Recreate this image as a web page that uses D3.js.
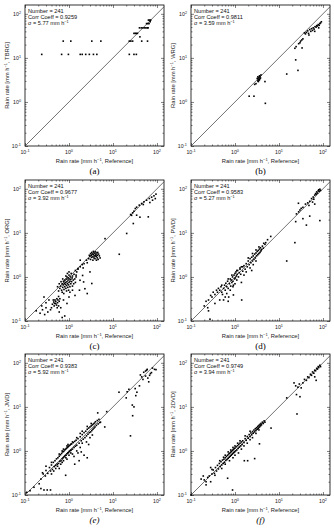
<!DOCTYPE html>
<html>
<head>
<meta charset="utf-8">
<script src="https://cdn.jsdelivr.net/npm/d3@7"></script>
<style>
  body { margin: 0; background: #fff; }
  svg { display: block; font-family: "Liberation Sans", Arial, sans-serif; }
</style>
</head>
<body>
<div id="chart"></div>
<script>
/* Six log-log scatter panels: gauge / disdrometer vs reference rain rate */

const width = 334, height = 528;
const W = 139, H = 141;
const colX = [25, 191], rowY = [5, 180, 354];

// panel info
const instruments = ["TBRG", "WRG", "ORG", "PWD", "JWD", "2DVD"];
const letters = ["(a)", "(b)", "(c)", "(d)", "(e)", "(f)"];
const counts = [241, 241, 241, 241, 241, 241];
const corrs = ["0.9259", "0.9811", "0.9677", "0.9583", "0.9383", "0.9749"];
const sigmas = ["5.77", "3.59", "3.92", "5.27", "5.92", "3.94"];
const majorTicks = [0.1, 1, 10, 100];
const tickExps = ["-1", "0", "1", "2"];

// [reference, instrument] rain rates, mm/h
const tbrgPts = [[0.24,12],[0.68,12],[0.97,12],[1.8,12],[2.0,12],[2.4,12],[2.9,12],[3.6,12],[4.3,12],[23.5,12],[30,12],[34,12],
  [0.74,24],[1.1,24],[3.3,24],[5.3,24],[23.5,24],[25.5,24],[28,24],[45,24],[61,24],
  [30,36],[32,36],[34,36],[36,36],[41,30],
  [40,48],[44,48],[48,48],[52,48],[56,48],[60,48],[63,48],
  [58,60],[62,60],[66,60],[64,72],[68,72],[72,72],[70,66]];

const wrgPts = [[2.1,1.35],[2.7,1.35],[2.8,2.5],[3.0,2.6],[3.2,3.4],[3.3,3.0],[3.4,3.3],[3.5,3.6],[3.6,3.9],[3.8,3.5],[3.5,3.1],
  [3.7,3.8],[3.9,4.1],[3.3,3.7],[3.6,3.2],[3.4,2.9],[3.7,3.4],[4.8,2.9],[4.9,0.93],[15,4.3],[24,9],[27,5.2],[23,16.5],
  [24.5,18],[28,21],[30,22],[31,24],[33,25.5],[33.5,16.8],[35,27],
  [38,37],[40,35],[42,38],[45,41],[47,36],[48,33],[50,44],[53,40],[55,46],[58,42],[60,48],[63,45],[65,40],[66,51],
  [70,50],[72,54],[75,53],[78,57],[80,48],[82,55],[85,60],[88,62],[92,66]];

const orgPts = [[25.2,26.1],[28,28.5],[30,31],[32.2,35.7],[34.5,38.3],[39.6,42.6],[44.8,46.4],[50.7,50.7],[58.2,55.2],
  [67,60.3],[75.7,64.7],[85.5,69.3],[95,75.7],[91.6,60],[79.4,55.2],[69,48.9],[34.5,25.2],[41,22.7],[63.5,23.1],
  [29,16.3],[20.5,9.7],[26.5,25],[48.9,44],[6.6,7.4],[13.9,3.27],
  [2.8,2.6],[3.0,2.9],[3.1,2.5],[3.2,3.1],[3.3,2.8],[3.4,3.3],[3.5,2.9],[3.6,3.2],[3.7,3.5],[3.8,3.0],[3.9,3.4],
  [4.0,3.7],[4.1,3.2],[4.2,2.9],[4.3,3.5],[4.4,3.1],[4.5,3.6],[4.7,3.3],[4.9,3.0],[5.1,2.7],[3.3,3.6],[3.6,3.8],
  [3.9,2.6],[4.2,2.4],[3.5,2.4],[4.6,2.5],[2.9,3.1],[3.1,3.4],[4.0,3.0],[3.7,2.7],[4.4,2.7],[2.5,2.4],[2.6,2.1],[2.2,2.0],
  [1.6,1.5],[1.8,1.7],[2.0,1.9],[2.1,1.6],[1.4,1.4],[1.8,2.4],
  [3.3,0.71],[2.04,1.08],[2.3,0.54],[2.6,0.42],[1.78,0.84],[1.5,1.3],[2.15,0.77],[1.73,0.5],[1.37,0.38],[1.2,0.5],
  [3.0,1.3],[1.6,1.55],[1.45,1.1],
  [0.62,0.55],[0.65,0.62],[0.68,0.5],[0.7,0.7],[0.72,0.58],[0.74,0.66],[0.75,0.8],[0.77,0.52],[0.78,0.72],[0.8,0.6],
  [0.8,0.85],[0.82,0.68],[0.84,0.75],[0.85,0.55],[0.86,0.9],[0.88,0.64],[0.9,0.78],[0.9,1.0],[0.92,0.7],[0.94,0.58],
  [0.95,0.85],[0.96,0.95],[0.98,0.66],[1.0,0.75],[1.0,1.1],[1.02,0.9],[1.05,0.6],[1.05,0.8],[1.08,1.0],[1.1,0.7],
  [1.1,0.88],[1.12,1.2],[1.15,0.78],[1.18,0.95],[1.2,0.62],[1.2,1.05],[1.25,0.85],[1.28,0.7],[1.3,1.15],[1.35,0.9],
  [1.4,0.75],[1.45,1.0],[0.7,0.45],[0.76,0.42],[0.88,0.48],[0.98,0.5],[1.05,0.45],[0.6,0.7],[0.66,0.78],[0.72,0.9],
  [0.85,1.05],[1.0,1.3],[0.92,1.2],[0.55,0.6],[0.58,0.48],
  [0.42,0.24],[0.45,0.27],[0.46,0.22],[0.48,0.3],[0.5,0.25],[0.5,0.28],[0.52,0.23],[0.53,0.32],[0.55,0.26],[0.56,0.3],
  [0.58,0.22],[0.6,0.28],[0.44,0.3],[0.47,0.25],[0.54,0.2],[0.62,0.32],[0.58,0.36],[0.4,0.2],
  [0.18,0.17],[0.22,0.15],[0.25,0.18],[0.28,0.14],[0.3,0.2],[0.33,0.16],[0.27,0.35],[0.35,0.3],[0.38,0.18],
  [0.8,0.13],[0.7,0.12],[0.9,0.25],[0.65,0.2],[0.75,0.3],[1.0,0.35],[0.6,0.16],[0.3,0.26],[0.24,0.22]];

const pwdPts = [[0.2,0.22],[0.22,0.28],[0.25,0.3],[0.28,0.38],[0.3,0.35],[0.32,0.45],[0.35,0.4],[0.38,0.5],[0.27,0.11],
  [0.25,0.17],[0.4,0.45],[0.42,0.55],[0.45,0.5],[0.48,0.6],[0.5,0.45],[0.52,0.4],[0.55,0.55],[0.58,0.65],[0.6,0.5],
  [0.62,0.72],[0.65,0.6],[0.68,0.8],[0.7,0.55],[0.72,0.35],[0.75,0.7],[0.78,0.9],[0.8,0.62],[0.82,0.85],[0.85,0.75],
  [0.88,1.0],[0.9,0.8],[0.92,0.65],[0.95,1.1],[0.98,0.9],[1.0,1.2],[1.02,0.95],[1.05,1.3],[1.08,1.05],[1.1,0.85],
  [1.12,1.15],[1.15,1.4],[1.2,1.0],[1.25,1.25],[1.3,1.5],[1.35,1.15],[1.4,0.75],[1.42,0.3],[1.5,1.35],[0.6,0.35],
  [0.7,0.28],[0.65,0.42],[0.78,0.5],[0.9,0.6],[1.0,0.7],[0.55,0.3],[0.45,0.3],[0.35,0.25],[0.24,0.2],[0.92,0.39],
  [1.6,1.8],[1.7,1.5],[1.8,2.0],[1.9,1.7],[2.0,2.3],[2.1,1.9],[2.2,2.6],[2.3,2.1],[2.4,2.8],[2.5,2.3],[2.6,3.0],
  [2.7,2.5],[2.8,3.3],[2.9,2.7],[3.0,3.5],[3.1,3.0],[3.2,3.8],[3.3,3.2],[3.4,4.0],[3.5,3.4],[3.6,4.3],[3.7,3.6],
  [3.8,4.6],[3.9,3.9],[4.0,4.2],[4.2,5.0],[4.4,4.5],[1.8,1.3],[2.2,1.6],[2.6,1.9],[3.0,2.3],[2.4,1.4],[1.6,1.1],
  [5.0,6.0],[5.5,7.0],[6.5,8.3],[4.8,5.5],[1.5,1.7],[1.3,1.6],[2.0,2.7],[2.5,3.4],[3.0,4.1],[3.5,4.8],[4.5,5.8],
  [0.5,0.65],[0.7,0.9],[0.85,1.1],[1.1,1.4],[1.4,1.7],
  [23,6],[15,2.3],[24,18],[25,27],[28,30],[30,33],[32,36],[35,38],[35,21],[42,15],[40,45],[45,48],[50,52],[50,24],
  [55,60],[60,65],[62,58],[65,72],[68,78],[70,75],[72,85],[75,80],[78,90],[80,95],[82,88],[85,19],[85,98],[88,92],
  [65,45],[58,50],[48,42],[27.7,47]];

const jwdPts = [[0.11,0.115],[0.13,0.125],[0.16,0.15],[0.23,0.14],[0.27,0.13],[0.32,0.13],[0.38,0.13],[0.21,0.18],
  [0.23,0.23],[0.26,0.3],[0.29,0.27],[0.25,0.32],[0.3,0.36],[0.33,0.31],[0.36,0.42],[0.38,0.35],[0.4,0.48],[0.42,0.38],
  [0.44,0.55],[0.46,0.44],[0.48,0.6],[0.5,0.47],[0.52,0.66],[0.54,0.5],[0.56,0.7],[0.58,0.52],[0.6,0.76],[0.62,0.58],
  [0.64,0.82],[0.66,0.6],[0.68,0.88],[0.7,0.66],[0.72,0.95],[0.74,0.7],[0.76,0.98],[0.78,0.74],[0.8,1.05],[0.82,0.78],
  [0.84,1.1],[0.86,0.8],[0.88,1.15],[0.9,0.86],[0.92,1.2],[0.94,0.9],[0.96,1.25],[0.98,0.92],[1.0,1.3],[1.02,0.98],
  [1.05,1.35],[1.08,1.02],[1.1,1.42],[1.12,1.05],[1.15,1.45],[1.2,1.1],[1.25,1.55],[1.3,1.2],[1.35,1.65],[1.4,1.28],
  [1.45,1.75],[1.5,1.35],[1.6,1.9],[1.7,1.5],[1.8,2.1],[1.9,1.7],[2.0,2.35],[2.1,1.85],[2.2,2.6],[2.3,2.0],[2.4,2.8],
  [2.5,2.2],[2.6,3.1],[2.7,2.4],[2.8,3.3],[2.9,2.6],[3.0,3.5],[3.1,2.7],[3.2,3.7],[3.3,2.9],[3.4,3.9],[3.5,3.1],
  [3.6,4.1],[3.7,3.3],[3.8,4.3],[3.9,3.5],[4.0,4.6],[4.2,3.8],[4.4,4.9],[4.6,4.1],[4.8,5.2],[5.0,4.4],[4.5,7.3],[6.5,3.5],
  [0.55,0.45],[0.6,0.4],[0.7,0.55],[0.75,0.6],[0.85,0.7],[0.9,0.65],[0.84,0.28],[1.0,0.8],[1.1,0.9],[1.2,0.85],
  [1.35,0.5],[1.3,0.75],[1.5,1.0],[1.6,0.9],[1.8,1.2],[2.0,1.5],[2.2,0.8],[2.6,0.7],[2.5,1.6],[3.0,2.0],[3.4,2.3],
  [2.8,1.4],[1.7,0.6],[1.9,0.95],[0.65,0.5],[0.5,0.4],[0.45,0.35],[0.4,0.3],
  [0.3,0.45],[0.4,0.55],[0.6,0.85],[0.75,1.1],[0.95,1.4],[1.2,1.6],[0.7,1.0],[1.5,2.0],[2.0,2.8],[2.6,3.6],[3.2,4.2],
  [0.9,1.3],[1.8,2.5],
  [7.2,7.8],[5.2,4.5],[13.7,21.5],[21,22],[23,25],[20,16],[27.5,11],[28,6.3],[25,2.2],[32,26],[35,21.5],[30,10],
  [42,53],[50,61],[55,65],[60,71],[71,57],[79,76],[88,71],[95,70],[65,37],[45,48],[48,42],[55,50],[62,45],[68,52],
  [75,60],[58,68],[40,30],[33,18]];

const dvdPts = [[0.1,0.1],[0.17,0.23],[0.19,0.27],[0.2,0.22],[0.22,0.2],[0.24,0.25],[0.26,0.27],[0.28,0.42],[0.3,0.3],
  [0.32,0.37],[0.34,0.31],[0.36,0.42],[0.38,0.35],[0.4,0.47],[0.42,0.39],[0.44,0.52],[0.46,0.44],[0.48,0.57],[0.5,0.48],
  [0.52,0.62],[0.54,0.52],[0.56,0.65],[0.58,0.55],[0.6,0.7],[0.62,0.61],[0.64,0.75],[0.66,0.64],[0.68,0.8],[0.7,0.68],
  [0.72,0.85],[0.74,0.72],[0.76,0.89],[0.78,0.76],[0.8,0.94],[0.82,0.8],[0.84,0.98],[0.86,0.84],[0.88,1.04],[0.9,0.88],
  [0.92,1.08],[0.94,0.92],[0.96,1.13],[0.98,0.95],[1.0,1.16],[1.03,1.0],[1.06,1.24],[1.1,1.05],[1.14,1.32],[1.18,1.14],
  [1.22,1.4],[1.26,1.22],[1.3,1.5],[1.35,1.3],[1.4,1.6],[1.45,1.4],[1.5,1.7],[1.6,1.55],[1.7,1.9],[1.8,1.74],
  [1.9,2.12],[2.0,1.94],[2.1,2.35],[2.2,2.12],[2.3,2.56],[2.4,2.32],[2.5,2.76],[2.6,2.52],[2.7,2.98],[2.8,2.7],[2.9,3.2],
  [3.0,2.9],[3.1,3.38],[3.2,3.1],[3.3,3.6],[3.4,3.28],[3.5,3.8],[3.6,3.48],[3.7,4.0],[3.8,3.7],[3.9,4.2],[4.0,3.9],
  [4.2,4.5],[4.4,4.2],[4.6,4.8],[4.8,4.5],
  [0.68,0.24],[0.88,0.13],[1.63,0.6],[1.94,0.6],[2.8,0.67],[3.6,1.45],[6.6,3.3],[25.7,6.9],[0.35,0.28],[0.5,0.4],
  [0.6,0.5],[0.75,0.6],[0.9,0.7],[1.0,0.8],[1.2,0.9],[1.4,1.1],[1.6,1.3],[1.9,1.5],[2.2,1.8],[2.5,2.0],[3.0,2.5],
  [3.5,3.0],[0.28,0.2],[0.22,0.17],
  [0.3,0.38],[0.45,0.6],[0.6,0.8],[0.8,1.05],[1.0,1.3],[1.3,1.7],[1.7,2.2],[2.2,2.8],[0.55,0.72],[0.7,0.95],[0.9,1.2],
  [1.15,1.5],
  [15,16],[22,35],[24,30],[27,28],[29,33],[32,27],[30,17],[25,19],[35,35],[38,42],[42,40],[45,48],[48,46],[52,55],
  [55,52],[58,62],[62,58],[65,68],[68,66],[72,75],[75,72],[78,82],[80,78],[85,88],[88,82],[70,40],[65,48]];

const allPts = [tbrgPts, wrgPts, orgPts, pwdPts, jwdPts, dvdPts];

const svg = d3.select("#chart")
  .append("svg")
  .attr("width", width)
  .attr("height", height)
  .attr("viewBox", [0, 0, width, height]);

// log minor ticks 2..9 per decade
const minorTicks = [];
for (let e = -1; e <= 2; e++) {
  for (let m = 2; m <= 9; m++) minorTicks.push(m * Math.pow(10, e));
}

const xMax = Math.pow(10, 2.16), yMax = Math.pow(10, 2.2);

// tick label with superscript exponent
function powLabel(sel, exp) {
  sel.append("tspan").text("10");
  sel.append("tspan").attr("dy", -2.2).attr("font-size", 3.8).text(exp);
}

function drawPanel(i) {
  const col = i % 2, row = Math.floor(i / 2);
  const g = svg.append("g").attr("transform", `translate(${colX[col]},${rowY[row]})`);

  let x = d3.scaleLog().domain([0.1, xMax]).range([0, W]);
  let y = d3.scaleLog().domain([0.1, yMax]).range([H, 0]);

  const minX = minorTicks.filter(v => v < xMax), minY = minorTicks.filter(v => v < yMax);

  // ticks pointing inward on all four sides
  g.append("g").attr("transform", `translate(0,${H})`)
    .call(d3.axisBottom(x).tickValues(minX).tickSize(-1.5).tickFormat(""));
  g.append("g").attr("transform", `translate(0,${H})`)
    .call(d3.axisBottom(x).tickValues(majorTicks).tickSize(-3).tickFormat(""));
  g.append("g")
    .call(d3.axisTop(x).tickValues(minX).tickSize(-1.5).tickFormat(""));
  g.append("g")
    .call(d3.axisTop(x).tickValues(majorTicks).tickSize(-3).tickFormat(""));
  g.append("g")
    .call(d3.axisLeft(y).tickValues(minY).tickSize(-1.5).tickFormat(""));
  g.append("g")
    .call(d3.axisLeft(y).tickValues(majorTicks).tickSize(-3).tickFormat(""));
  g.append("g").attr("transform", `translate(${W},0)`)
    .call(d3.axisRight(y).tickValues(minY).tickSize(-1.5).tickFormat(""));
  g.append("g").attr("transform", `translate(${W},0)`)
    .call(d3.axisRight(y).tickValues(majorTicks).tickSize(-3).tickFormat(""));

  g.selectAll(".domain").remove();
  g.selectAll(".tick line").attr("stroke", "#000").attr("stroke-width", 0.5);

  g.append("rect")
    .attr("width", W).attr("height", H)
    .attr("fill", "none").attr("stroke", "#000").attr("stroke-width", 0.8);

  // 1:1 line
  const lim = Math.min(xMax, yMax);
  g.append("line")
    .attr("x1", x(0.1)).attr("y1", y(0.1))
    .attr("x2", x(lim)).attr("y2", y(lim))
    .attr("stroke", "#333").attr("stroke-width", 0.7);

  // points
  g.append("g").selectAll("rect")
    .data(allPts[i])
    .join("rect")
    .attr("x", d => x(d[0]) - 0.8)
    .attr("y", d => y(d[1]) - 0.8)
    .attr("width", 1.6).attr("height", 1.6)
    .attr("fill", "#000");

  // tick labels
  majorTicks.forEach((v, k) => {
    const tx = g.append("text")
      .attr("x", x(v)).attr("y", H + 8)
      .attr("text-anchor", "middle")
      .attr("font-size", 5.2).attr("fill", "#222");
    powLabel(tx, tickExps[k]);
    const ty = g.append("text")
      .attr("x", -4).attr("y", y(v) + 2)
      .attr("text-anchor", "end")
      .attr("font-size", 5.2).attr("fill", "#222");
    powLabel(ty, tickExps[k]);
  });

  // stats box text
  const info = g.append("text").attr("font-size", 5.6).attr("fill", "#111");
  info.append("tspan").attr("x", 3).attr("y", 8).text("Number = " + counts[i]);
  info.append("tspan").attr("x", 3).attr("y", 14).text("Corr Coeff = " + corrs[i]);
  info.append("tspan").attr("x", 3).attr("y", 20).text("\u03c3 = " + sigmas[i] + " mm h");
  info.append("tspan").attr("dy", -2).attr("font-size", 3.8).text("\u22121");

  // x axis label
  const xl = g.append("text")
    .attr("x", W / 2).attr("y", H + 17)
    .attr("text-anchor", "middle")
    .attr("font-size", 5.8).attr("fill", "#222");
  xl.append("tspan").text("Rain rate [mm h");
  xl.append("tspan").attr("dy", -2).attr("font-size", 4).text("\u22121");
  xl.append("tspan").attr("dy", 2).text(", Reference]");

  // y axis label
  const yl = g.append("text")
    .attr("transform", `translate(-16,${H / 2}) rotate(-90)`)
    .attr("text-anchor", "middle")
    .attr("font-size", 5.8).attr("fill", "#222");
  yl.append("tspan").text("Rain rate [mm h");
  yl.append("tspan").attr("dy", -2).attr("font-size", 4).text("\u22121");
  yl.append("tspan").attr("dy", 2).text(", " + instruments[i] + "]");

  // panel letter
  g.append("text")
    .attr("x", W / 2).attr("y", H + 28)
    .attr("text-anchor", "middle")
    .attr("font-family", "'Liberation Serif', 'Times New Roman', serif")
    .attr("font-style", i >= 4 ? "italic" : "normal")
    .attr("font-size", 9).attr("fill", "#000")
    .text(letters[i]);
}

for (let i = 0; i < 6; i++) drawPanel(i);
</script>
</body>
</html>
